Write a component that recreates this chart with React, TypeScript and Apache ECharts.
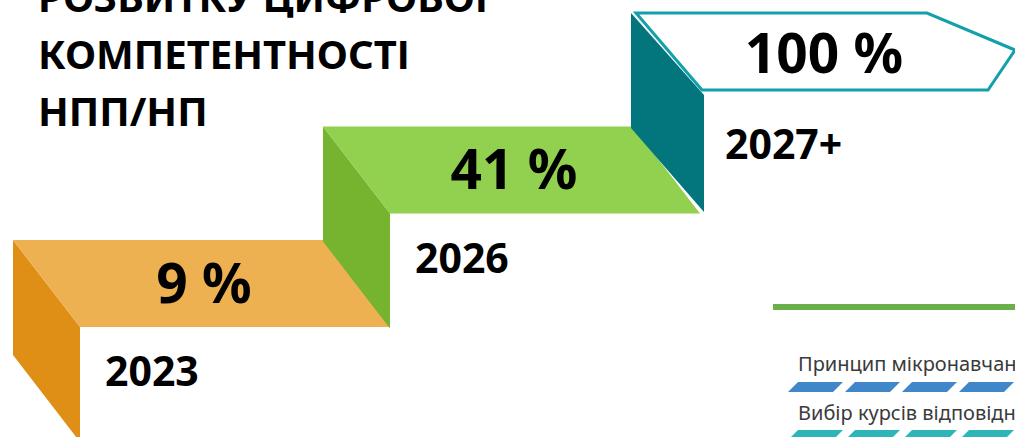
import React, { useEffect, useRef } from "react";
import * as echarts from "echarts";

// ---- data ----
const years = ["2023", "2026", "2027+"];
const values = [9, 41, 100];
const levels = [0, 1, 2];
const titleLines = ["РОЗВИТКУ ЦИФРОВОЇ", "КОМПЕТЕНТНОСТІ", "НПП/НП"];
const noteLines = ["Принцип мікронавчання", "Вибір курсів відповідно"];
const topColors = ["#EEB152", "#92D050", "#FFFFFF"];
const sideColors = ["#DF8E16", "#76B32F", "#03757D"];

// ---- layout constants ----
const W = 1015;
const H = 437;
const STEP_W = 310;
const STEP_H = 113.5;
const X0 = 13;
const Y0 = 240;
const DEPTH = 87;
const SKEW = 67;
const SIDE_H = 115;

export default function App() {
  const ref = useRef<HTMLDivElement>(null);

  useEffect(() => {
    if (!ref.current) return;
    const chart = echarts.init(ref.current, undefined, { renderer: "svg" });

    const xSpan = W / STEP_W;
    const xMin = -X0 / STEP_W;
    const ySpan = H / STEP_H;
    const yMax = Y0 / STEP_H;

    const data = values.map((v, i) => [i, levels[i], v, years[i]]);
    const last = values.length - 1;

    const renderItem = (params: any, api: any) => {
      const i = api.value(0);
      const pt = api.coord([api.value(0), api.value(1)]);
      const ax = pt[0];
      const ay = pt[1];
      const children: any[] = [];
      if (i === last) {
        children.push({
          type: "polygon",
          shape: {
            points: [
              [ax - 2, ay],
              [ax + 71, ay + 82],
              [ax + 71, ay + 199],
              [ax - 2, ay + SIDE_H],
            ],
          },
          style: { fill: sideColors[i] },
        });
        children.push({
          type: "polygon",
          shape: {
            points: [
              [ax + 3, ay],
              [ax + 294, ay],
              [ax + 382, ay + 37],
              [ax + 355, ay + 77],
              [ax + 69, ay + 77],
            ],
          },
          style: { fill: topColors[i], stroke: "#12A0AA", lineWidth: 3 },
        });
      } else {
        children.push({
          type: "polygon",
          shape: {
            points: [
              [ax, ay],
              [ax + SKEW, ay + DEPTH],
              [ax + SKEW, ay + DEPTH + SIDE_H],
              [ax, ay + SIDE_H],
            ],
          },
          style: { fill: sideColors[i] },
        });
        children.push({
          type: "polygon",
          shape: {
            points: [
              [ax, ay],
              [ax + STEP_W, ay],
              [ax + STEP_W + SKEW, ay + DEPTH],
              [ax + SKEW, ay + DEPTH],
            ],
          },
          style: { fill: topColors[i] },
        });
      }
      children.push({
        type: "text",
        style: {
          text: api.value(2) + " %",
          x: ax + 191,
          y: i === last ? ay + 38 : ay + 41,
          align: "center",
          verticalAlign: "middle",
          fontFamily: "Noto Sans",
          fontWeight: "bold",
          fontSize: 55,
          fill: "#000",
        },
      });
      children.push({
        type: "text",
        style: {
          text: years[i],
          x: ax + 92,
          y: ay + 130,
          align: "left",
          verticalAlign: "middle",
          fontFamily: "Noto Sans",
          fontWeight: "bold",
          fontSize: 41,
          fill: "#000",
        },
      });
      return { type: "group", children };
    };

    const graphics: any[] = [];
    titleLines.forEach((t, k) => {
      graphics.push({
        type: "text",
        left: 38,
        top: -24 + k * 57,
        style: {
          text: t,
          fontFamily: "Noto Sans",
          fontWeight: "bold",
          fontSize: 40,
          fill: "#000",
        },
      });
    });
    graphics.push({
      type: "rect",
      shape: { x: 773, y: 304, width: 260, height: 6 },
      style: { fill: "#6AAF4A" },
    });
    noteLines.forEach((t, k) => {
      graphics.push({
        type: "text",
        x: 798,
        y: 363 + k * 49,
        style: {
          text: t,
          fontFamily: "Noto Sans",
          fontSize: 20,
          fill: "#3A3A3A",
          verticalAlign: "middle",
        },
      });
    });
    const rowColors = ["#3F87C9", "#2DB5B7"];
    const rowTops = [382, 430];
    rowTops.forEach((top, r) => {
      for (let k = 0; k < 5; k++) {
        const bx = 788 + k * 57;
        graphics.push({
          type: "polygon",
          shape: {
            points: [
              [bx, top + 10],
              [bx + 10, top],
              [bx + 55, top],
              [bx + 45, top + 10],
            ],
          },
          style: { fill: rowColors[r] },
        });
      }
    });

    chart.setOption({
      animation: false,
      backgroundColor: "#FFFFFF",
      grid: { left: 0, right: 0, top: 0, bottom: 0 },
      xAxis: { type: "value", min: xMin, max: xMin + xSpan, show: false },
      yAxis: { type: "value", min: yMax - ySpan, max: yMax, show: false },
      series: [
        {
          type: "custom",
          renderItem,
          data,
          clip: false,
          silent: true,
        },
      ],
      graphic: graphics,
    });

    return () => chart.dispose();
  }, []);

  return (
    <div
      ref={ref}
      style={{ position: "absolute", left: 0, top: 0, width: W, height: H }}
    />
  );
}
